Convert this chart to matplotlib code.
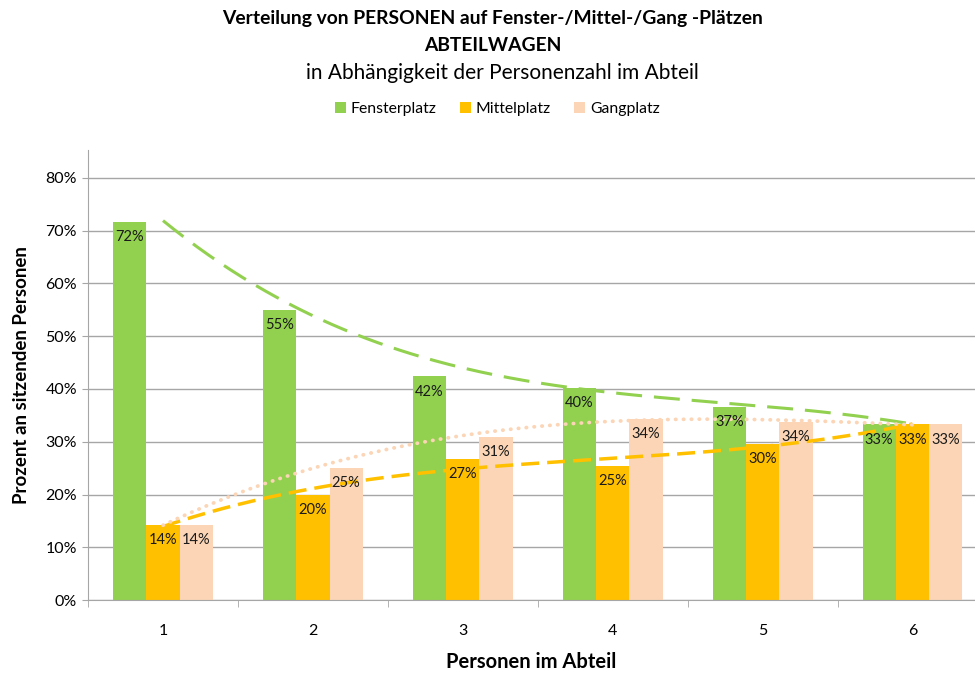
import numpy as np
import matplotlib.pyplot as plt

# ── DATA ─────────────────────────────────────────────
personen = [1, 2, 3, 4, 5, 6]
fenster = [0.716, 0.550, 0.424, 0.402, 0.366, 0.333]
mittel = [0.142, 0.200, 0.267, 0.254, 0.296, 0.333]
gang = [0.142, 0.250, 0.309, 0.344, 0.338, 0.333]
serien = ["Fensterplatz", "Mittelplatz", "Gangplatz"]
farben = ["#92D050", "#FFC000", "#FBD5B5"]

plt.rcParams["font.family"] = ["Lato", "DejaVu Sans"]

fig = plt.figure(figsize=(9.75, 6.75), dpi=100)
ax = fig.add_axes([0.0903, 0.111, 0.9097, 0.667])

x = np.array(personen, dtype=float)
w = 0.222
for i, (werte, name, farbe) in enumerate(zip([fenster, mittel, gang], serien, farben)):
    pos = x + (i - 1) * w
    ax.bar(pos, werte, width=w, color=farbe, label=name, zorder=2)
    for px, v in zip(pos, werte):
        ax.annotate(f"{v*100:.0f}%", (px, v), xytext=(0, -6), textcoords="offset points",
                    ha="center", va="top", fontsize=10.5, color="#1a1a1a", zorder=5)

# ── TRENDLINES (polynomial) ──────────────────────────
xs = np.linspace(1, 6, 200)
stile = [
    dict(lw=2.2, linestyle=(0, (8.5, 3.9))),
    dict(lw=2.5, linestyle=(0, (5.2, 2.3))),
    dict(lw=2.7, linestyle=(0, (0.1, 2.0)), dash_capstyle="round"),
]
for werte, farbe, st in zip([fenster, mittel, gang], farben, stile):
    koef = np.polyfit(x, werte, 3)
    ax.plot(xs, np.polyval(koef, xs), color=farbe, zorder=4, **st)

# ── AXES ─────────────────────────────────────────────
ax.set_xlim(0.5, 6.417)
ax.set_ylim(0, 0.853)
ax.set_yticks(np.arange(0, 0.81, 0.1))
ax.set_yticklabels([f"{int(round(t*100))}%" for t in np.arange(0, 0.81, 0.1)])
ax.set_xticks(x)
ax.set_xticklabels([str(p) for p in personen])
ax.set_xticks(np.arange(0.5, 6.5, 1.0), minor=True)
ax.tick_params(axis="x", which="major", length=0, pad=17, labelsize=11.5)
ax.tick_params(axis="x", which="minor", length=5, color="#A6A6A6")
ax.tick_params(axis="y", length=4, color="#A6A6A6", labelsize=11.5, pad=4)
ax.grid(axis="y", color="#A6A6A6", lw=1, zorder=0)
ax.set_axisbelow(True)
for s in ["top", "right"]:
    ax.spines[s].set_visible(False)
for s in ["left", "bottom"]:
    ax.spines[s].set_color("#A6A6A6")

ax.set_xlabel("Personen im Abteil", fontsize=14.5, fontweight="bold", labelpad=10)
ax.set_ylabel("Prozent an sitzenden Personen", fontsize=13.5, fontweight="bold", labelpad=11)

fig.text(0.505, 0.973, "Verteilung von PERSONEN auf Fenster-/Mittel-/Gang -Plätzen",
         ha="center", va="center", fontsize=13.9, fontweight="bold")
fig.text(0.505, 0.933, "ABTEILWAGEN", ha="center", va="center", fontsize=13.9, fontweight="bold")
fig.text(0.515, 0.892, "in Abhängigkeit der Personenzahl im Abteil", ha="center", va="center", fontsize=15)

fig.legend(loc="center", bbox_to_anchor=(0.51, 0.838), ncol=3, frameon=False, fontsize=11.3,
           handlelength=0.7, handleheight=0.7, handletextpad=0.3, columnspacing=1.5)

fig.savefig("out.png", dpi=100)
